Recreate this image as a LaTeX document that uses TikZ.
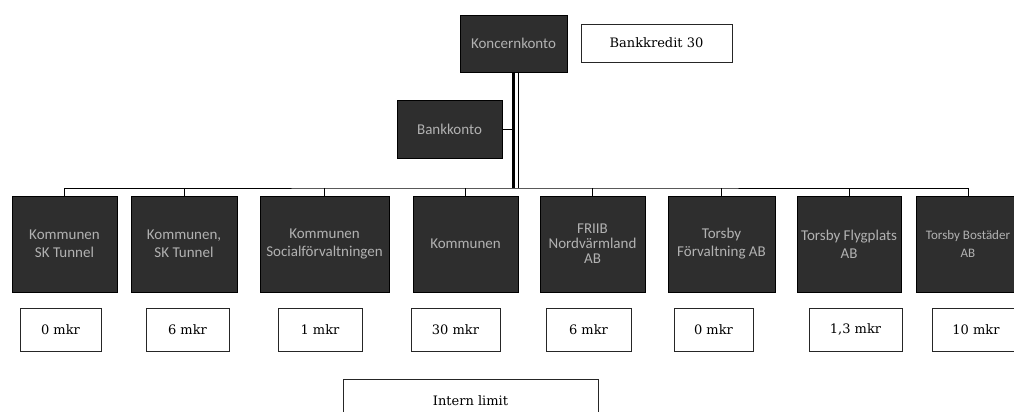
\documentclass[tikz,border=0pt]{standalone}
\usepackage{fontspec}
\setmainfont{DejaVu Serif}
\newfontfamily\boxfont{Carlito}

\begin{document}
\begin{tikzpicture}[x=1pt, y=-1pt,
    darkbox/.style={draw=black, fill=black!82, text=black!30, align=center, inner sep=1pt,
      minimum height=96, font=\boxfont\fontsize{15}{18}\selectfont},
    valbox/.style={draw=black!85, line width=0.8pt, inner sep=0pt, minimum height=43,
      font=\fontsize{13}{15}\selectfont},
    conn/.style={draw=black, line width=1pt}]
  \useasboundingbox (0,0) rectangle (1014,412);

  % top of the tree
  \node [darkbox, minimum width=107, minimum height=57] (koncern) at (513.5,43.5) {Koncernkonto};
  \node [valbox, minimum width=151, minimum height=38] (kredit) at (656.5,43) {Bankkredit 30};
  \node [darkbox, minimum width=105, minimum height=58] (bank) at (449.5,129) {Bankkonto};
  \coordinate (hub) at (513.5,188);

  % accounts
  \node [darkbox, minimum width=105] (k1) at (64.5,244) {Kommunen\\SK Tunnel};
  \node [darkbox, minimum width=106] (k2) at (184,244) {Kommunen,\\SK Tunnel};
  \node [darkbox, minimum width=129] (k3) at (324.5,244) {Kommunen\\Socialförvaltningen};
  \node [darkbox, minimum width=105] (k4) at (465.5,244) {Kommunen};
  \node [darkbox, minimum width=105, font=\boxfont\fontsize{15}{15}\selectfont] (k5) at (592.5,244) {FRIIB\\Nordvärmland\\AB};
  \node [darkbox, minimum width=107] (k6) at (721.5,244) {Torsby\\Förvaltning AB};
  \node [darkbox, minimum width=104] (k7) at (849,244) {Torsby Flygplats\\AB};
  \node [darkbox, minimum width=104, font=\boxfont\fontsize{13}{18}\selectfont] (k8) at (968,244) {Torsby Bostäder\\AB};

  % limits
  \node [valbox, minimum width=81] (v1) at (60.5,329.5) {0 mkr};
  \node [valbox, minimum width=83] (v2) at (187.5,329.5) {6 mkr};
  \node [valbox, minimum width=84] (v3) at (320,329.5) {1 mkr};
  \node [valbox, minimum width=89] (v4) at (455.5,329.5) {30 mkr};
  \node [valbox, minimum width=85] (v5) at (588.5,329.5) {6 mkr};
  \node [valbox, minimum width=79] (v6) at (713.5,329.5) {0 mkr};
  \node [valbox, minimum width=93] (v7) at (855.5,329.5) {1,3 mkr};
  \node [valbox, minimum width=88] (v8) at (976,329.5) {10 mkr};
  \node [valbox, minimum width=255] (intern) at (470.5,400.5) {Intern limit};

  % connectors
  \draw [conn, line width=3pt] (koncern.south) -- (hub);
  \draw [conn, line width=0.7pt] ([xshift=5pt]koncern.south) -- ([xshift=5pt]hub);
  \draw [conn] (bank.east) -- (bank.east -| hub);
  \draw [conn] (k1.north) |- (hub) -| (k8.north);
  \draw [conn] (k2.north) -- (k2.north |- hub);
  \draw [conn] (k3.north) -- (k3.north |- hub);
  \draw [conn] (k4.north) -- (k4.north |- hub);
  \draw [conn] (k5.north) -- (k5.north |- hub);
  \draw [conn] (k6.north) -- (k6.north |- hub);
  \draw [conn] (k7.north) -- (k7.north |- hub);
\end{tikzpicture}
\end{document}
